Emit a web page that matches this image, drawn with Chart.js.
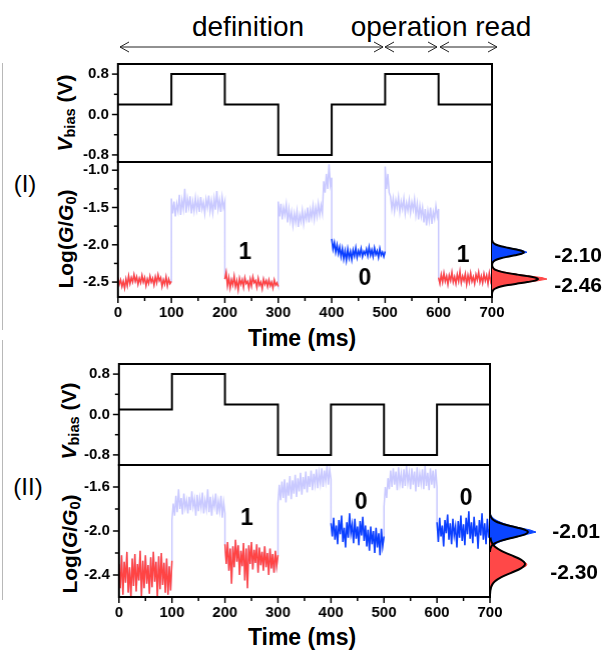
<!DOCTYPE html>
<html>
<head>
<meta charset="utf-8">
<script src="https://cdn.jsdelivr.net/npm/chart.js@4.4.1/dist/chart.umd.min.js"></script>
<style>
  html, body { margin: 0; padding: 0; background: #fff; }
  #fig { position: relative; width: 607px; height: 650px; overflow: hidden;
         font-family: 'Liberation Sans', Arial, Helvetica, sans-serif; color: #000; }
  canvas { position: absolute; }
  .txt { position: absolute; white-space: nowrap; line-height: 1; }
  .c { transform: translate(-50%, -50%); }
  .rot { transform: translate(-50%, -50%) rotate(-90deg); }
  .b { font-weight: bold; }
  .sep { position: absolute; left: 2px; width: 1px; background: #b8b8b8; }
  sub { font-size: 70%; vertical-align: -0.25em; line-height: 0; }
</style>
</head>
<body>
<div id="fig">
  <div class="sep" style="top:63px;height:267px"></div>
  <div class="sep" style="top:340px;height:260px"></div>

  <!-- phase headings -->
  <div class="txt c" style="left:248px;top:27px;font-size:28px">definition</div>
  <div class="txt c" style="left:441px;top:27px;font-size:28px">operation read</div>
  <svg style="position:absolute;left:0;top:0" width="607" height="60">
    <g stroke="#222" stroke-width="1" fill="none">
      <line x1="120" y1="47" x2="383" y2="47"/>
      <polyline points="129,42 120,47 129,52"/>
      <polyline points="374,42 383,47 374,52"/>
      <line x1="385" y1="47" x2="437" y2="47"/>
      <polyline points="394,42 385,47 394,52"/>
      <polyline points="428,42 437,47 428,52"/>
      <line x1="440" y1="47" x2="497" y2="47"/>
      <polyline points="449,42 440,47 449,52"/>
      <polyline points="488,42 497,47 488,52"/>
    </g>
  </svg>

  <div class="txt c" style="left:25px;top:184px;font-size:24px">(I)</div>
  <div class="txt c" style="left:28px;top:487px;font-size:24px">(II)</div>

  <div class="txt rot b" style="left:64px;top:113px;font-size:21px"><i>V</i><sub>bias</sub> (V)</div>
  <div class="txt rot b" style="left:65px;top:239px;font-size:21px">Log(<i>G</i>/<i>G</i><sub>0</sub>)</div>
  <div class="txt rot b" style="left:68px;top:421px;font-size:21px"><i>V</i><sub>bias</sub> (V)</div>
  <div class="txt rot b" style="left:69px;top:544px;font-size:21px">Log(<i>G</i>/<i>G</i><sub>0</sub>)</div>

  <div class="txt c b" style="left:302px;top:338px;font-size:23px">Time (ms)</div>
  <div class="txt c b" style="left:302px;top:637px;font-size:23px">Time (ms)</div>

  <canvas id="vbias1"></canvas>
  <canvas id="log1"></canvas>
  <canvas id="hist1"></canvas>
  <canvas id="vbias2"></canvas>
  <canvas id="log2"></canvas>
  <canvas id="hist2"></canvas>
</div>

<script>
const FONT = "'Liberation Sans', Arial, Helvetica, sans-serif";
Chart.defaults.font.family = FONT;
Chart.defaults.color = '#000';
Chart.defaults.animation = false;

// ---- time axis ----
const SEGMENT_START = [0, 100, 200, 300, 400, 500, 600];
const SEGMENT_MS = 100;
const TIME_END = 700;
const TIME_MAJOR = [0, 100, 200, 300, 400, 500, 600, 700];
const TIME_MINOR = [50, 150, 250, 350, 450, 550, 650];

// ---- bias pulse sequences (V), one level per 100 ms segment ----
const VBIAS_I  = [0.2, 0.8, 0.2, -0.8, 0.2, 0.8, 0.2];
const VBIAS_II = [0.1, 0.8, 0.2, -0.8, 0.2, -0.8, 0.2];
const VBIAS_MAJOR = [0.8, 0.0, -0.8];
const VBIAS_MINOR = [0.4, -0.4];

// ---- state of each segment: '1', '0' or 'w' (write / switching pulse) ----
const STATE_I  = ['1', 'w', '1', 'w', '0', 'w', '1'];
const STATE_II = ['1', 'w', '1', 'w', '0', 'w', '0'];

// ---- conductance traces, Log(G/G0), sampled every 2.5 ms ----
const LOG_I_SEG0 = [-2.44,-2.53,-2.47,-2.56,-2.49,-2.58,-2.46,-2.55,-2.42,-2.52,-2.44,-2.50,-2.40,-2.49,-2.43,-2.53,-2.45,-2.51,-2.41,-2.50,-2.44,-2.55,-2.46,-2.52,-2.42,-2.50,-2.45,-2.54,-2.43,-2.51,-2.40,-2.48,-2.44,-2.56,-2.47,-2.53,-2.43,-2.55,-2.46,-2.52,-2.49];
const LOG_I_SEG1 = [-1.38,-1.58,-1.42,-1.62,-1.45,-1.55,-1.33,-1.60,-1.40,-1.52,-1.25,-1.57,-1.38,-1.50,-1.35,-1.58,-1.42,-1.55,-1.37,-1.53,-1.40,-1.56,-1.36,-1.52,-1.43,-1.58,-1.39,-1.50,-1.34,-1.55,-1.41,-1.57,-1.38,-1.53,-1.28,-1.52,-1.40,-1.56,-1.36,-1.50,-1.42];
const LOG_I_SEG2 = [-2.46,-2.37,-2.55,-2.44,-2.58,-2.47,-2.54,-2.42,-2.56,-2.48,-2.60,-2.45,-2.53,-2.47,-2.57,-2.44,-2.52,-2.49,-2.58,-2.46,-2.55,-2.43,-2.51,-2.48,-2.57,-2.45,-2.54,-2.50,-2.59,-2.46,-2.53,-2.48,-2.56,-2.47,-2.55,-2.50,-2.58,-2.47,-2.54,-2.51,-2.56];
const LOG_I_SEG3 = [-1.42,-1.62,-1.45,-1.66,-1.50,-1.60,-1.46,-1.70,-1.52,-1.68,-1.56,-1.74,-1.58,-1.70,-1.55,-1.76,-1.60,-1.69,-1.54,-1.72,-1.57,-1.66,-1.50,-1.70,-1.53,-1.64,-1.48,-1.66,-1.50,-1.62,-1.45,-1.60,-1.47,-1.58,-1.15,-1.30,-1.05,-1.25,-0.92,-1.20,-1.10];
const LOG_I_SEG4 = [-1.92,-2.06,-1.97,-2.10,-2.00,-2.12,-2.03,-2.16,-2.05,-2.19,-2.08,-2.21,-2.06,-2.18,-2.09,-2.20,-2.07,-2.15,-2.04,-2.17,-2.08,-2.14,-2.05,-2.16,-2.09,-2.13,-2.06,-2.15,-2.03,-2.14,-2.07,-2.16,-2.04,-2.13,-2.08,-2.17,-2.05,-2.14,-2.10,-2.16,-2.09];
const LOG_I_SEG5 = [-0.95,-1.25,-1.05,-1.30,-1.35,-1.52,-1.38,-1.55,-1.40,-1.50,-1.36,-1.56,-1.42,-1.52,-1.38,-1.58,-1.44,-1.54,-1.40,-1.57,-1.43,-1.53,-1.39,-1.60,-1.45,-1.66,-1.48,-1.62,-1.50,-1.70,-1.52,-1.74,-1.55,-1.68,-1.50,-1.72,-1.56,-1.65,-1.48,-1.62,-1.52];
const LOG_I_SEG6 = [-2.44,-2.52,-2.40,-2.50,-2.38,-2.49,-2.42,-2.53,-2.41,-2.48,-2.37,-2.50,-2.43,-2.52,-2.40,-2.49,-2.36,-2.51,-2.42,-2.48,-2.39,-2.53,-2.41,-2.50,-2.38,-2.49,-2.43,-2.52,-2.40,-2.47,-2.37,-2.50,-2.42,-2.51,-2.39,-2.48,-2.41,-2.52,-2.38,-2.49,-2.42];

const LOG_II_SEG0 = [-2.30,-2.52,-2.22,-2.58,-2.28,-2.47,-2.19,-2.56,-2.33,-2.60,-2.25,-2.50,-2.21,-2.55,-2.30,-2.45,-2.18,-2.59,-2.27,-2.52,-2.22,-2.48,-2.31,-2.57,-2.24,-2.51,-2.19,-2.46,-2.28,-2.60,-2.23,-2.53,-2.20,-2.49,-2.29,-2.56,-2.25,-2.58,-2.32,-2.54,-2.27];
const LOG_II_SEG1 = [-1.90,-1.75,-1.86,-1.68,-1.83,-1.62,-1.80,-1.70,-1.85,-1.66,-1.79,-1.72,-1.84,-1.69,-1.81,-1.64,-1.78,-1.71,-1.86,-1.67,-1.82,-1.70,-1.79,-1.65,-1.84,-1.72,-1.80,-1.62,-1.83,-1.69,-1.86,-1.71,-1.78,-1.66,-1.85,-1.73,-1.82,-1.68,-1.88,-1.74,-1.84];
const LOG_II_SEG2 = [-2.12,-2.30,-2.10,-2.36,-2.16,-2.48,-2.14,-2.33,-2.08,-2.28,-2.13,-2.40,-2.18,-2.32,-2.11,-2.45,-2.16,-2.52,-2.13,-2.30,-2.10,-2.35,-2.17,-2.29,-2.12,-2.38,-2.15,-2.31,-2.19,-2.36,-2.14,-2.33,-2.20,-2.40,-2.16,-2.34,-2.21,-2.38,-2.18,-2.32,-2.22];
const LOG_II_SEG3 = [-1.75,-1.58,-1.72,-1.55,-1.70,-1.53,-1.74,-1.56,-1.68,-1.50,-1.71,-1.54,-1.66,-1.49,-1.69,-1.52,-1.64,-1.47,-1.67,-1.51,-1.62,-1.46,-1.65,-1.50,-1.60,-1.45,-1.63,-1.48,-1.58,-1.44,-1.61,-1.47,-1.57,-1.43,-1.60,-1.45,-1.55,-1.41,-1.58,-1.44,-1.53];
const LOG_II_SEG4 = [-1.93,-2.05,-1.88,-2.08,-1.95,-2.12,-1.90,-2.03,-1.86,-2.10,-1.97,-2.15,-1.92,-2.06,-1.84,-2.02,-1.94,-2.11,-1.89,-2.07,-1.96,-2.13,-1.91,-2.04,-1.87,-2.09,-1.95,-2.14,-1.99,-2.18,-1.96,-2.12,-2.00,-2.20,-1.97,-2.15,-2.02,-2.22,-1.98,-2.14,-2.05];
const LOG_II_SEG5 = [-1.78,-1.60,-1.70,-1.52,-1.62,-1.45,-1.60,-1.43,-1.58,-1.46,-1.63,-1.42,-1.57,-1.48,-1.61,-1.44,-1.59,-1.41,-1.56,-1.47,-1.62,-1.43,-1.58,-1.46,-1.64,-1.42,-1.60,-1.48,-1.57,-1.44,-1.62,-1.41,-1.59,-1.47,-1.63,-1.43,-1.58,-1.45,-1.61,-1.44,-1.60];
const LOG_II_SEG6 = [-1.92,-2.10,-1.88,-2.05,-1.95,-2.14,-1.90,-2.02,-1.85,-2.08,-1.93,-2.12,-1.89,-2.04,-1.96,-2.15,-1.91,-2.06,-1.86,-2.09,-1.94,-2.13,-1.88,-2.03,-1.82,-2.07,-1.92,-2.11,-1.87,-2.05,-1.95,-2.16,-1.90,-2.04,-1.84,-2.08,-1.93,-2.12,-1.89,-2.06,-1.96];

const LOG_I_MAJOR  = [-1.0, -1.5, -2.0, -2.5];
const LOG_I_MINOR  = [-1.25, -1.75, -2.25];
const LOG_II_MAJOR = [-1.6, -2.0, -2.4];
const LOG_II_MINOR = [-1.8, -2.2];

// ---- conductance histograms of the read states (counts per 0.02 bin) ----
const HIST_I_BLUE_BINS    = [-1.96,-1.98,-2.00,-2.02,-2.04,-2.06,-2.08,-2.10,-2.12,-2.14,-2.16,-2.18,-2.20,-2.22,-2.24,-2.26];
const HIST_I_BLUE_COUNTS  = [0, 1, 4, 9, 16, 25, 31, 35, 30, 22, 15, 8, 4, 2, 1, 0];
const HIST_I_RED_BINS     = [-2.30,-2.32,-2.34,-2.36,-2.38,-2.40,-2.42,-2.44,-2.46,-2.48,-2.50,-2.52,-2.54,-2.56,-2.58,-2.60,-2.62,-2.64];
const HIST_I_RED_COUNTS   = [0, 2, 5, 10, 18, 27, 38, 50, 55, 47, 36, 26, 15, 8, 4, 2, 1, 0];
const FIT_I_BLUE_Y = [-1.94,-1.96,-1.98,-2.00,-2.02,-2.04,-2.06,-2.08,-2.10,-2.12,-2.14,-2.16,-2.18,-2.20,-2.22,-2.24,-2.26,-2.28];
const FIT_I_BLUE_X = [0.2, 0.6, 1.8, 4.3, 8.9, 15.6, 23.2, 29.5, 32, 29.5, 23.2, 15.6, 8.9, 4.3, 1.8, 0.6, 0.2, 0];
const FIT_I_RED_Y  = [-2.28,-2.30,-2.32,-2.34,-2.36,-2.38,-2.40,-2.42,-2.44,-2.46,-2.48,-2.50,-2.52,-2.54,-2.56,-2.58,-2.60,-2.62,-2.64,-2.66];
const FIT_I_RED_X  = [0.2, 0.7, 1.8, 4.2, 8.8, 16.0, 25.4, 35.3, 43.1, 46, 43.1, 35.3, 25.4, 16.0, 8.8, 4.2, 1.8, 0.7, 0.2, 0];

const HIST_II_BLUE_BINS   = [-1.85,-1.87,-1.89,-1.91,-1.93,-1.95,-1.97,-1.99,-2.01,-2.03,-2.05,-2.07,-2.09,-2.11,-2.13,-2.15,-2.17,-2.19];
const HIST_II_BLUE_COUNTS = [0, 2, 4, 8, 13, 20, 29, 40, 46, 37, 28, 19, 12, 7, 4, 2, 1, 0];
const HIST_II_RED_BINS    = [-2.08,-2.10,-2.12,-2.14,-2.16,-2.18,-2.20,-2.22,-2.24,-2.26,-2.28,-2.30,-2.32,-2.34,-2.36,-2.38,-2.40,-2.42,-2.44,-2.46,-2.48,-2.50,-2.52,-2.56];
const HIST_II_RED_COUNTS  = [0, 2, 3, 5, 8, 11, 15, 20, 25, 30, 34, 37, 36, 31, 26, 21, 16, 11, 7, 5, 3, 2, 1, 0];
const FIT_II_BLUE_Y = [-1.85,-1.87,-1.89,-1.91,-1.93,-1.95,-1.97,-1.99,-2.01,-2.03,-2.05,-2.07,-2.09,-2.11,-2.13,-2.15,-2.17,-2.19];
const FIT_II_BLUE_X = [0.2, 0.8, 2.1, 5.1, 10.6, 18.5, 27.6, 35.1, 38, 35.1, 27.6, 18.5, 10.6, 5.1, 2.1, 0.8, 0.2, 0];
const FIT_II_RED_Y  = [-2.06,-2.10,-2.14,-2.18,-2.22,-2.26,-2.30,-2.34,-2.38,-2.42,-2.46,-2.50,-2.54,-2.58];
const FIT_II_RED_X  = [0.4, 1.5, 4.7, 11.4, 21.2, 30.9, 35, 30.9, 21.2, 11.4, 4.7, 1.5, 0.4, 0];

// fitted peak centres, printed next to the histograms
const PEAKS_I  = [-2.10, -2.46];
const PEAKS_II = [-2.01, -2.30];

// ---- styling ----
const LAVENDER = '#c9c9ff';
const STATE_COLOR = { '1': '#ff4444', '0': '#0a3fff', 'w': LAVENDER };
const TICK_FONT = { family: FONT, size: 15, weight: 'bold' };
const TRACE_WIDTH = 1.5;

// ---- per-canvas decorations (frame, tick marks, annotations) ----
const decor = {};
Chart.register({
  id: 'decor',
  afterDraw(chart) {
    const d = decor[chart.canvas.id];
    if (!d) return;
    const ctx = chart.ctx, a = chart.chartArea;
    ctx.save();
    ctx.strokeStyle = '#000';
    ctx.lineWidth = 1.5;
    (d.ticks || []).forEach(t => {
      const s = chart.scales[t.axis];
      [[t.major, 6], [t.minor, 4]].forEach(([vals, len]) => {
        (vals || []).forEach(v => {
          const p = s.getPixelForValue(v);
          ctx.beginPath();
          if (t.axis === 'x') { ctx.moveTo(p, a.bottom); ctx.lineTo(p, a.bottom + len); }
          else { ctx.moveTo(a.left - len, p); ctx.lineTo(a.left, p); }
          ctx.stroke();
        });
      });
    });
    if (d.frame) {
      ctx.lineWidth = 2;
      ctx.strokeRect(a.left, a.top, a.right - a.left, a.bottom - a.top);
    }
    ctx.fillStyle = '#000';
    ctx.textBaseline = 'middle';
    (d.texts || []).forEach(it => {
      ctx.font = it.font;
      ctx.textAlign = it.align || 'center';
      const x = ('t' in it) ? chart.scales.x.getPixelForValue(it.t) : a.left + it.px;
      const y = chart.scales.y.getPixelForValue(it.v) + (it.dy || 0);
      ctx.fillText(it.text, x, y);
    });
    ctx.restore();
  }
});

// Build a chart so that its plot area lands exactly on the given page rectangle.
function setSize(cv, w, h) {
  cv.width = w; cv.height = h;
  cv.style.width = w + 'px'; cv.style.height = h + 'px';
}
function mount(id, area, makeConfig) {
  const cv = document.getElementById(id);
  let w = area.w + 150, h = area.h + 50;
  setSize(cv, w, h);
  let chart = new Chart(cv, makeConfig());
  let a = chart.chartArea;
  w += area.w - (a.right - a.left);
  h += area.h - (a.bottom - a.top);
  chart.destroy();
  setSize(cv, w, h);
  chart = new Chart(cv, makeConfig());
  a = chart.chartArea;
  cv.style.left = (area.x - a.left) + 'px';
  cv.style.top = (area.y - a.top) + 'px';
  return chart;
}

function fixedTicks(values) {
  return scale => { scale.ticks = values.map(v => ({ value: v })); };
}

const COMMON = {
  responsive: false, maintainAspectRatio: false, animation: false,
  plugins: { legend: { display: false }, tooltip: { enabled: false } }
};

function vbiasChart(id, area, levels, yMin, yMax) {
  const pts = levels.map((v, i) => ({ x: SEGMENT_START[i], y: v }));
  pts.push({ x: TIME_END, y: levels[levels.length - 1] });
  decor[id] = { frame: true, ticks: [{ axis: 'y', major: VBIAS_MAJOR, minor: VBIAS_MINOR }] };
  return mount(id, area, () => ({
    type: 'scatter',
    data: { datasets: [{ data: pts, showLine: true, stepped: true, borderColor: '#000',
                         borderWidth: 2, pointRadius: 0 }] },
    options: Object.assign({}, COMMON, {
      layout: { padding: { left: 0, right: 20, top: 12, bottom: 12 } },
      scales: {
        x: { type: 'linear', min: 0, max: TIME_END, display: false },
        y: {
          type: 'linear', min: yMin, max: yMax,
          afterBuildTicks: fixedTicks(VBIAS_MAJOR),
          grid: { display: false, drawTicks: false }, border: { display: false },
          ticks: { font: TICK_FONT, padding: 9, callback: v => Number(v).toFixed(1) }
        }
      }
    })
  }));
}

function segmentPoints(values, start) {
  const dt = SEGMENT_MS / (values.length - 1);
  return values.map((v, i) => ({ x: start + i * dt, y: v }));
}

function logChart(id, area, segments, states, yMin, yMax, major, minor, labels) {
  const segPts = segments.map((s, i) => segmentPoints(s, SEGMENT_START[i]));
  decor[id] = {
    frame: true,
    ticks: [{ axis: 'y', major, minor }, { axis: 'x', major: TIME_MAJOR, minor: TIME_MINOR }],
    texts: labels.map(l => Object.assign({ font: 'bold 23px ' + FONT }, l))
  };
  return mount(id, area, () => {
    const datasets = [];
    segPts.forEach((pts, i) => {
      if (states[i] !== 'w') {
        datasets.push({ data: pts, borderColor: STATE_COLOR[states[i]], order: 1 });
      }
    });
    datasets.push({ data: [].concat(...segPts), borderColor: LAVENDER, order: 2 });
    datasets.forEach(ds => Object.assign(ds, { showLine: true, borderWidth: TRACE_WIDTH, pointRadius: 0 }));
    return {
      type: 'scatter',
      data: { datasets },
      options: Object.assign({}, COMMON, {
        layout: { padding: { left: 0, right: 20, top: 12, bottom: 0 } },
        scales: {
          x: {
            type: 'linear', min: 0, max: TIME_END,
            afterFit: s => { s.height = 30; },
            afterBuildTicks: fixedTicks(TIME_MAJOR),
            grid: { display: false, drawTicks: false }, border: { display: false },
            ticks: { font: TICK_FONT, padding: 7, maxRotation: 0, autoSkip: false }
          },
          y: {
            type: 'linear', min: yMin, max: yMax,
            afterBuildTicks: fixedTicks(major),
            grid: { display: false, drawTicks: false }, border: { display: false },
            ticks: { font: TICK_FONT, padding: 9, callback: v => Number(v).toFixed(1) }
          }
        }
      })
    };
  });
}

function histChart(id, area, yMin, yMax, hists, fits, peaks, peakPlacement) {
  decor[id] = {
    texts: peaks.map((v, i) => ({
      v, text: v.toFixed(2), px: peakPlacement[i].px, dy: peakPlacement[i].dy,
      align: 'right', font: 'bold 21px ' + FONT
    }))
  };
  return mount(id, area, () => {
    const datasets = [];
    fits.forEach(f => datasets.push({
      data: f.y.map((y, i) => ({ x: f.x[i], y })), showLine: true, borderColor: '#000',
      borderWidth: 2, pointRadius: 0, fill: false, order: 0, tension: 0.3
    }));
    hists.forEach((h, k) => datasets.push({
      data: h.bins.map((y, i) => ({ x: h.counts[i], y })), showLine: true,
      borderColor: h.color, backgroundColor: h.color, borderWidth: 1, pointRadius: 0,
      fill: 'shape', order: 1 + k
    }));
    return {
      type: 'scatter',
      data: { datasets },
      options: Object.assign({}, COMMON, {
        layout: { padding: 0 },
        scales: {
          x: { type: 'linear', min: 0, max: area.w, display: false },
          y: { type: 'linear', min: yMin, max: yMax, display: false }
        }
      })
    };
  });
}

// ---- panel (I) ----
const LOG_I_RANGE = [-2.70, -0.89];
vbiasChart('vbias1', { x: 118, y: 64, w: 374, h: 98 }, VBIAS_I, -0.94, 1.0);
logChart('log1', { x: 118, y: 162, w: 374, h: 135 },
  [LOG_I_SEG0, LOG_I_SEG1, LOG_I_SEG2, LOG_I_SEG3, LOG_I_SEG4, LOG_I_SEG5, LOG_I_SEG6],
  STATE_I, LOG_I_RANGE[0], LOG_I_RANGE[1], LOG_I_MAJOR, LOG_I_MINOR,
  [{ t: 238, v: -2.11, text: '1' }, { t: 462, v: -2.46, text: '0' }, { t: 646, v: -2.14, text: '1' }]);
histChart('hist1', { x: 492, y: 162, w: 115, h: 135 }, LOG_I_RANGE[0], LOG_I_RANGE[1],
  [{ bins: HIST_I_RED_BINS, counts: HIST_I_RED_COUNTS, color: '#ff4848' },
   { bins: HIST_I_BLUE_BINS, counts: HIST_I_BLUE_COUNTS, color: '#0a45ff' }],
  [{ y: FIT_I_BLUE_Y, x: FIT_I_BLUE_X }, { y: FIT_I_RED_Y, x: FIT_I_RED_X }],
  PEAKS_I, [{ px: 110, dy: 4 }, { px: 110, dy: 7 }]);

// ---- panel (II) ----
const LOG_II_RANGE = [-2.60, -1.40];
vbiasChart('vbias2', { x: 119, y: 364, w: 371, h: 101 }, VBIAS_II, -1.0, 1.0);
logChart('log2', { x: 119, y: 465, w: 371, h: 132 },
  [LOG_II_SEG0, LOG_II_SEG1, LOG_II_SEG2, LOG_II_SEG3, LOG_II_SEG4, LOG_II_SEG5, LOG_II_SEG6],
  STATE_II, LOG_II_RANGE[0], LOG_II_RANGE[1], LOG_II_MAJOR, LOG_II_MINOR,
  [{ t: 241, v: -1.89, text: '1' }, { t: 457, v: -1.74, text: '0' }, { t: 655, v: -1.71, text: '0' }]);
histChart('hist2', { x: 490, y: 465, w: 117, h: 132 }, LOG_II_RANGE[0], LOG_II_RANGE[1],
  [{ bins: HIST_II_RED_BINS, counts: HIST_II_RED_COUNTS, color: '#ff4848' },
   { bins: HIST_II_BLUE_BINS, counts: HIST_II_BLUE_COUNTS, color: '#0a45ff' }],
  [{ y: FIT_II_BLUE_Y, x: FIT_II_BLUE_X }, { y: FIT_II_RED_Y, x: FIT_II_RED_X }],
  PEAKS_II, [{ px: 110, dy: 0 }, { px: 108, dy: 9 }]);
</script>
</body>
</html>
